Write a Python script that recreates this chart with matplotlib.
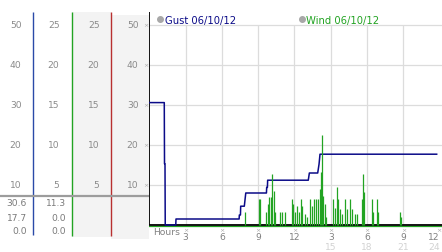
import matplotlib

matplotlib.use("Agg")
import matplotlib.pyplot as plt
import matplotlib.transforms as mtransforms
from matplotlib.patches import Rectangle

W, H = 442, 253

# Gust trace for 06/10/12 (hours after midnight, mph)
gust_hours = [0.0, 1.23, 1.25, 1.29, 1.31, 2.18, 2.20, 7.42, 7.44, 7.53, 7.55, 7.85,
              7.97, 9.68, 9.70, 9.76, 9.78, 13.14, 13.23, 13.92, 14.03, 14.11, 23.76]
gust_mph = [30.6, 30.6, 15.3, 15.3, 0.0, 0.0, 1.5, 1.5, 2.5, 2.5, 4.7, 4.7,
            8.0, 8.0, 9.4, 9.4, 11.2, 11.2, 13.0, 13.0, 15.2, 17.7, 17.7]

# Non-zero wind readings (calm otherwise)
wind_hours = [7.93, 9.07, 9.15, 9.65, 9.81, 9.92, 10.03, 10.17, 10.28, 10.36,
              10.80, 10.97, 11.21, 11.82, 11.90, 12.04, 12.23, 12.40, 12.51, 12.62,
              12.85, 13.04, 13.26, 13.45, 13.59, 13.80, 13.95, 14.09, 14.17, 14.30,
              14.38, 14.50, 14.63, 15.19, 15.33, 15.49, 15.60, 15.74, 15.93, 16.15,
              16.37, 16.57, 16.78, 16.98, 17.15, 17.59, 17.64, 17.75, 18.39, 18.47,
              18.80, 18.91, 20.73, 20.81]
wind_mph = [1.6, 3.2, 3.2, 1.6, 2.6, 3.5, 3.5, 6.4, 4.2, 1.6,
            1.6, 1.6, 1.6, 3.2, 2.6, 1.6, 2.4, 1.6, 3.2, 2.4,
            1.4, 1.0, 3.2, 2.4, 3.2, 3.2, 3.2, 4.5, 6.6, 11.3,
            3.6, 2.6, 1.0, 3.2, 2.1, 4.7, 3.2, 2.0, 1.4, 3.2,
            2.0, 3.2, 2.0, 1.4, 1.4, 3.2, 6.4, 4.1, 3.2, 1.6,
            3.2, 1.6, 1.6, 1.0]

gust_ticks = [10, 20, 30, 40, 50]
wind_ticks = [5, 10, 15, 20, 25]
hour_ticks = [3, 6, 9, 12, 15, 18, 21, 24]
hour_labels = ["3", "6", "9", "12", "3", "6", "9", "12"]
hour_labels_24 = ["", "", "", "", "15", "18", "21", "24"]
gust_stats = ["30.6", "17.7", "0.0"]  # max, current, min
wind_stats = ["11.3", "0.0", "0.0"]

NAVY = "#0b0b88"
GREEN = "#22a322"
BLUE_RULE = "#2a4aa8"
RED_RULE = "#b83030"
GRID = "#dcdcdc"
LABEL = "#8a8a8a"

plt.rcParams["font.family"] = ["DejaVu Sans"]
plt.rcParams["font.size"] = 6.6

fig = plt.figure(figsize=(W / 100, H / 100), dpi=100)


def frac(x0, y0, x1, y1):
    return [x0 / W, 1 - y1 / H, (x1 - x0) / W, (y1 - y0) / H]


# pixel canvas for the side panel and decorations
px = fig.add_axes([0, 0, 1, 1], zorder=0)
px.set_xlim(0, W)
px.set_ylim(H, 0)
px.axis("off")

ax = fig.add_axes(frac(149.4, 13, 442, 230), zorder=1)
ax.set_xlim(0, 24.2)
ax.set_ylim(-1, 53.25)
ax.axis("off")
ax.patch.set_visible(False)

ax2 = ax.twinx()
ax2.set_ylim(-0.5, 26.625)
ax2.axis("off")
ax2.patch.set_visible(False)

# grid
ax.hlines(gust_ticks, 0, 24.2, color=GRID, lw=0.9, zorder=0)
ax.vlines(hour_ticks[:-1], 0, 50, color=GRID, lw=0.9, zorder=0)

# series
ax.axhline(-0.35, color=GREEN, lw=0.9, zorder=1)
ax.axhline(0, color="black", lw=1.3, zorder=2)
ax.vlines(0, 0, 53.25, color="black", lw=1.3, zorder=2)
ax.plot(gust_hours, gust_mph, color=NAVY, lw=1.1, zorder=3)
ax2.vlines(wind_hours, 0, wind_mph, color=GREEN, lw=0.9, zorder=4)

# side panel backgrounds and rules
px.add_patch(Rectangle((72.3, 13), 38.7, 225, color="#f3f3f3", lw=0))
px.add_patch(Rectangle((111, 16), 38.4, 224, color="#f3f3f3", lw=0))
px.vlines(33.3, 12.7, 236, color=BLUE_RULE, lw=1.0)
px.vlines(72.3, 12.7, 237, color=GREEN, lw=1.0)
px.vlines(111, 12.7, 237, color=RED_RULE, lw=1.0)
px.hlines(196.7, 0, 149, color="#9c9c9c", lw=1.6)

side_g = mtransforms.blended_transform_factory(px.transData, ax.transData)
side_w = mtransforms.blended_transform_factory(px.transData, ax2.transData)
for v in gust_ticks:
    px.text(21.5, v, str(v), transform=side_g, ha="right", va="center", color=LABEL)
    px.text(138.5, v, str(v), transform=side_g, ha="right", va="center", color=LABEL)
    px.text(145.5, v, "\u00d7", transform=side_g, ha="center", va="center",
            color="#aaaaaa", fontsize=4.5)
for v in wind_ticks:
    px.text(59.5, v, str(v), transform=side_w, ha="right", va="center", color=LABEL)
    px.text(99.5, v, str(v), transform=side_w, ha="right", va="center", color=LABEL)

for row_y, g, w in zip([203.3, 218.3, 231.7], gust_stats, wind_stats):
    px.text(27, row_y, g, ha="right", va="center", color="#7a7a7a")
    px.text(66, row_y, w, ha="right", va="center", color="#7a7a7a")

# x axis labels; the last column sits against the right edge
bottom = mtransforms.blended_transform_factory(ax.transData, px.transData)
for h, lab, lab24 in zip(hour_ticks, hour_labels, hour_labels_24):
    last = h == hour_ticks[-1]
    ha = "right" if last else "center"
    xt = h + (0.02 if last else 0)
    px.text(h - (0.1 if last else 0), 230.7, "\u00d7", transform=bottom,
            ha="center", va="center", color="#aaaaaa", fontsize=4.5)
    px.text(xt, 238, lab, transform=bottom, ha=ha, va="center", color="#808080")
    if lab24:
        px.text(xt, 247.5, lab24, transform=bottom, ha=ha, va="center",
                color="#d2d2d2")
px.text(153, 232.5, "Hours", ha="left", va="center", color="#808080")

# legend
px.plot(160, 20.3, "o", color="#a8a8a8", ms=4)
px.text(165, 20.5, "Gust 06/10/12", ha="left", va="center", color=NAVY, fontsize=7.2)
px.plot(301.7, 20.3, "o", color="#a8a8a8", ms=4)
px.text(306, 20.5, "Wind 06/10/12", ha="left", va="center", color=GREEN, fontsize=7.2)

fig.savefig("out.png", dpi=100)
